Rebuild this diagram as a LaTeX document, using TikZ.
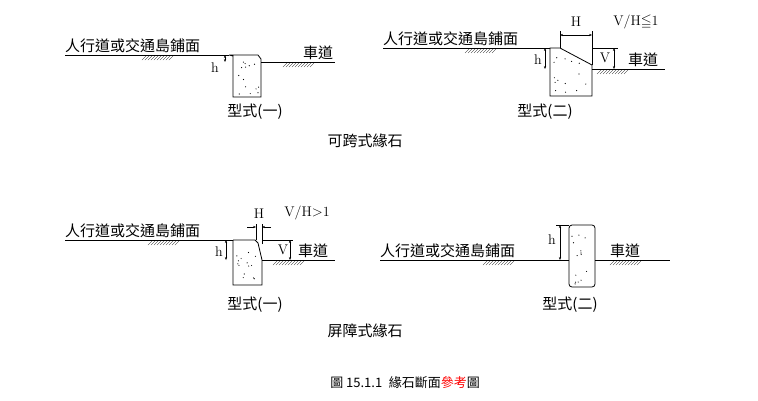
\documentclass[tikz,border=0pt]{standalone}
\usepackage{amssymb}
\usepackage{fontspec}
\usetikzlibrary{arrows.meta}
\newfontfamily\cjk{Noto Sans CJK TC}
\begin{document}
\begin{tikzpicture}[x=1pt,y=-1pt,
  every node/.style={font=\cjk\fontsize{15}{15}\selectfont, inner sep=0pt},
  lbl/.style={font=\fontsize{14}{14}\selectfont},
  dim/.style={thin,{Stealth[length=3pt]}-{Stealth[length=3pt]}},
  curb/.style={thick}]
  \useasboundingbox (0,0) rectangle (758,400);
  \pgfmathsetseed{7}
  % hatch under a ground line
  \newcommand\hatchat[2]{\foreach \k in {0,3,...,27}{\draw[very thin] (#1+\k,#2+5) -- (#1+\k+4,#2+1);}}
  \newcommand\dotsin[4]{\foreach \k in {1,...,14}{\fill ({#1+2+rnd*(#3-#1-4)},{#2+2+rnd*(#4-#2-4)}) circle (0.6);}}
  %% type 1, mountable
  \draw[thick] (65,55) -- (229,55);
  \draw[curb] (229,55) -- (233,56) -- (233,97) -- (261,97) -- (261,59) -- (258,55) -- (229,55);
  \draw[thick] (261,62) -- (335,62);
  \dotsin{233}{56}{261}{97}
  \hatchat{142}{55} \hatchat{283}{62}
  \node[anchor=south west] (walk1) at (65,53) {人行道或交通島鋪面};
  \node[anchor=south] (road1) at (318,60) {車道};
  \node[lbl] (h1) at (215,68) {h};
  \draw[dim] (225,55) -- (225,62);
  \node (type1) at (255,112) {型式(一)};
  %% type 2, mountable
  \draw[thick] (383,48) -- (550,48);
  \draw[curb] (550,48) -- (560,48) -- (592,65) -- (592,96) -- (550,96) -- cycle;
  \draw[thick] (592,69) -- (665,69);
  \dotsin{551}{55}{591}{96}
  \hatchat{465}{48} \hatchat{597}{69}
  \node[anchor=south west] (walk2) at (383,46) {人行道或交通島鋪面};
  \node[anchor=south] (road2) at (643,67) {車道};
  \draw[thin] (560,48) -- (560,31) (592,65) -- (592,31);
  \draw[dim] (560,35) -- (592,35);
  \node[lbl] (H2) at (576,22) {H};
  \node[lbl] (ratio2) at (636,22) {V/H$\leqq$1};
  \draw[thin] (592,48) -- (618,48) (592,69) -- (618,69);
  \draw[dim] (614,48) -- (614,69);
  \node[lbl] (V2) at (605,58) {V};
  \node[lbl] (h2) at (538,60) {h};
  \draw[dim] (545,48) -- (545,69);
  \node (type2) at (545,112) {型式(二)};
  \node (mount) at (365,141) {可跨式緣石};
  %% type 1, barrier
  \draw[thick] (65,240) -- (233,240);
  \draw[curb] (233,240) -- (233,285) -- (262,285) -- (262,260) -- (258,243) -- (255,240) -- (233,240);
  \draw[thick] (262,260) -- (335,260);
  \dotsin{234}{242}{260}{285}
  \hatchat{148}{240} \hatchat{273}{260}
  \node[anchor=south west] (walk3) at (65,238) {人行道或交通島鋪面};
  \node[anchor=south] (road3) at (313,258) {車道};
  \draw[thin] (256,240) -- (256,224) (262,244) -- (262,224);
  \draw[thin,-{Stealth[length=3pt]}] (247,227) -- (256,227);
  \draw[thin,-{Stealth[length=3pt]}] (271,227) -- (262,227);
  \node[lbl] (H3) at (259,214) {H};
  \node[lbl] (ratio3) at (307,213) {V/H$>$1};
  \draw[thin] (262,240) -- (293,240) (262,260) -- (293,260);
  \draw[dim] (290,240) -- (290,260);
  \node[lbl] (V3) at (283,250) {V};
  \node[lbl] (h3) at (219,252) {h};
  \draw[dim] (226,240) -- (226,260);
  \node (type3) at (255,305) {型式(一)};
  \node (barrier) at (365,331) {屏障式緣石};
  %% type 2, barrier
  \draw[thick] (380,260) -- (569,260) (595,260) -- (670,260);
  \draw[curb,rounded corners=3pt] (569,287) -- (569,225) -- (595,225) -- (595,287) -- cycle;
  \dotsin{570}{227}{594}{286}
  \hatchat{483}{260} \hatchat{610}{260}
  \node[anchor=south west] (walk4) at (380,258) {人行道或交通島鋪面};
  \node[anchor=south] (road4) at (625,258) {車道};
  \draw[thin] (556,225) -- (569,225);
  \draw[dim] (560,225) -- (560,260);
  \node[lbl] (h4) at (552,240) {h};
  \node (type4) at (570,305) {型式(二)};
  %% caption
  \node[font=\cjk\fontsize{13}{13}\selectfont] (cap) at (405,383) {圖 15.1.1\enspace 緣石斷面\textcolor{red}{參考}圖};
\end{tikzpicture}
\end{document}
